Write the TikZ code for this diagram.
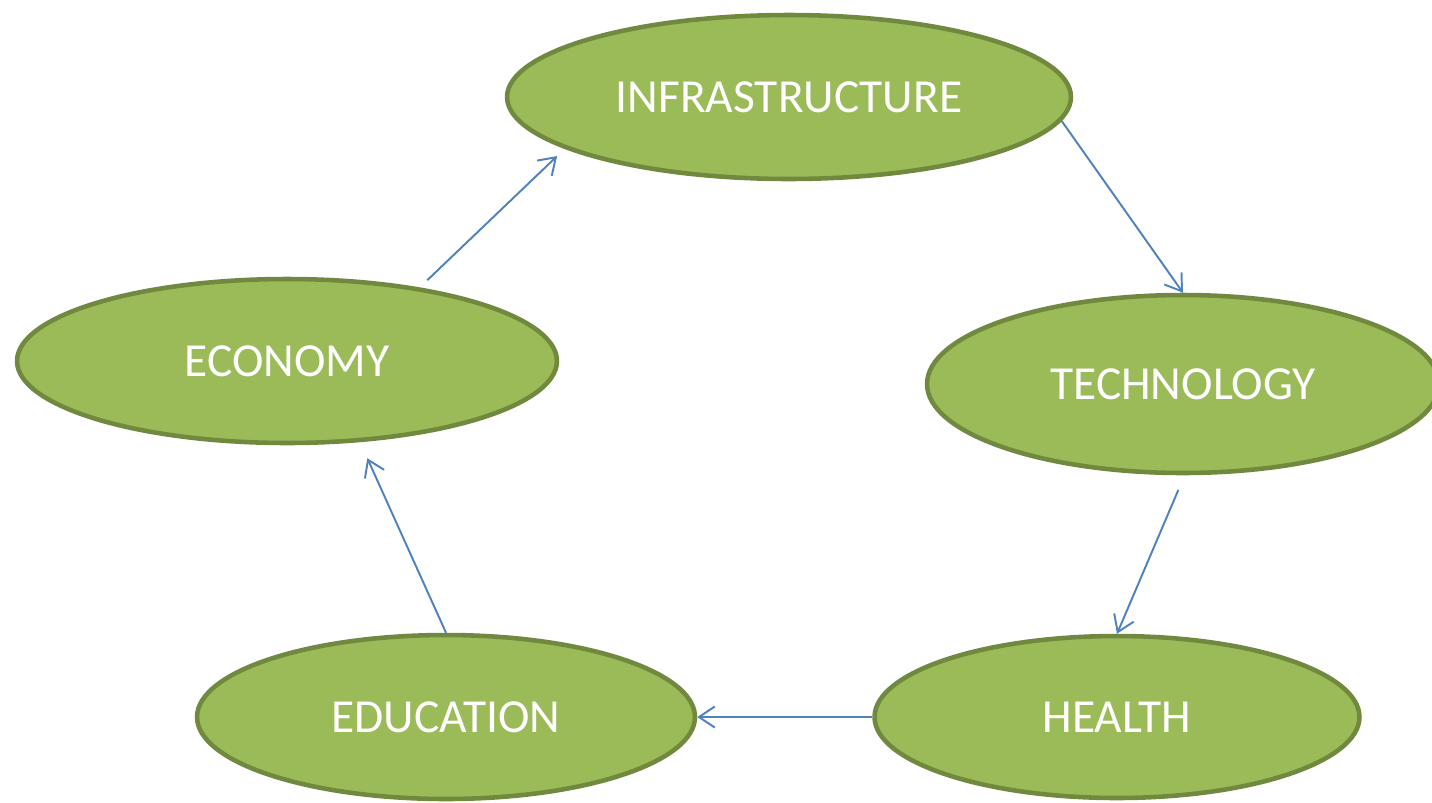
\documentclass[tikz,border=0pt]{standalone}
\usepackage{fontspec}
\setmainfont{Carlito}
\usepackage{tikz}
\usetikzlibrary{shapes.geometric,arrows.meta}
\definecolor{leaf}{HTML}{9BBB59}
\definecolor{leafline}{HTML}{71893F}
\definecolor{arrowblue}{HTML}{4F81BD}
\tikzstyle{topic} = [ellipse, draw=leafline, line width=2.6pt, fill=leaf, text=white,
inner sep=0pt, font=\fontsize{27}{32}\selectfont]
\tikzstyle{arrow} = [arrowblue, line width=1.1pt, -{Straight Barb[length=9pt,width=12pt]}]

\begin{document}
\begin{tikzpicture}[x=0.02cm, y=-0.02cm]
                 \useasboundingbox (0,0) rectangle (1432,802);
                 \node (infra) [topic, minimum width=11.28cm, minimum height=3.28cm] at (789,97) {INFRASTRUCTURE};
                 \node (tech) [topic, minimum width=10.24cm, minimum height=3.56cm] at (1183,384) {TECHNOLOGY};
                 \node (health) [topic, minimum width=9.7cm, minimum height=3.24cm] at (1117,717) {HEALTH};
                 \node (edu) [topic, minimum width=9.96cm, minimum height=3.28cm] at (446,717) {EDUCATION};
                 \node (econ) [topic, minimum width=10.8cm, minimum height=3.28cm] at (287,361) {ECONOMY};
                 \draw [arrow, shorten <=6pt, shorten >=6pt] (econ.29) -- (infra.193);
                 \draw [arrow] (infra.-5.5) -- (tech.north);
                 \draw [arrow, shorten <=9pt] (tech.-89) -- (health.north);
                 \draw [arrow] (health.west) -- (edu.east);
                 \draw [arrow, shorten >=10pt] (edu.north) -- (econ.-48);
             \end{tikzpicture}
\end{document}
